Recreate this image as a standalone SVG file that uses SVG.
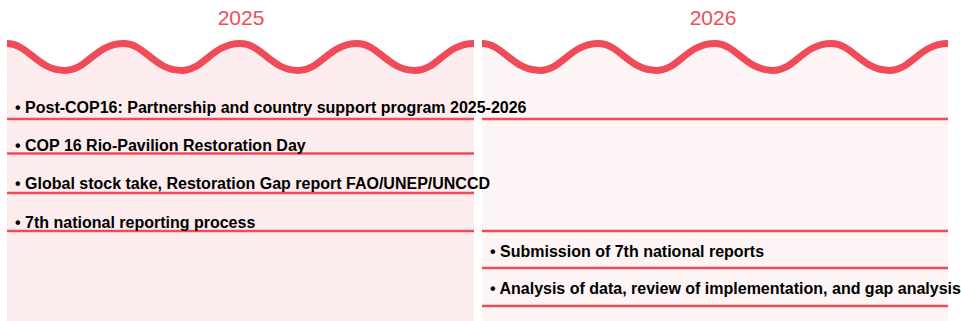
<svg xmlns="http://www.w3.org/2000/svg" width="961" height="321" viewBox="0 0 961 321">
<defs>
<style>
.year{font-family:"Liberation Sans",Arial,sans-serif;font-size:21px;fill:#f04b59;text-anchor:middle}
.wave{fill:none;stroke:#f04b59;stroke-width:7}
.line{stroke:#f04b59;stroke-width:2.5}
.item{font-family:"Liberation Sans",Arial,sans-serif;font-size:16px;font-weight:bold;fill:#000}
</style>
</defs>
<rect width="961" height="321" fill="#ffffff"/>
<g id="panel-2025">
<path d="M7,43.5 C28.3,43.5 37.1,70.5 65.4,70.5 C86.6,70.5 95.5,43.5 123.8,43.5 C145,43.5 153.9,70.5 182.1,70.5 C203.4,70.5 212.2,43.5 240.5,43.5 C261.8,43.5 270.6,70.5 298.9,70.5 C320.1,70.5 329,43.5 357.3,43.5 C378.5,43.5 387.4,70.5 415.6,70.5 C436.9,70.5 445.7,43.5 474,43.5 L474,321 L7,321 Z" fill="#fcecee"/>
<path class="wave" d="M7,43.5 C28.3,43.5 37.1,70.5 65.4,70.5 C86.6,70.5 95.5,43.5 123.8,43.5 C145,43.5 153.9,70.5 182.1,70.5 C203.4,70.5 212.2,43.5 240.5,43.5 C261.8,43.5 270.6,70.5 298.9,70.5 C320.1,70.5 329,43.5 357.3,43.5 C378.5,43.5 387.4,70.5 415.6,70.5 C436.9,70.5 445.7,43.5 474,43.5"/>
<text class="year" x="241" y="25">2025</text>
</g>
<g id="panel-2026">
<path d="M482,43.5 C503.2,43.5 512,70.5 540.3,70.5 C561.5,70.5 570.3,43.5 598.5,43.5 C619.7,43.5 628.5,70.5 656.8,70.5 C678,70.5 686.8,43.5 715,43.5 C736.2,43.5 745,70.5 773.3,70.5 C794.5,70.5 803.3,43.5 831.5,43.5 C852.7,43.5 861.5,70.5 889.8,70.5 C911,70.5 919.8,43.5 948,43.5 L948,321 L482,321 Z" fill="#fdf5f5"/>
<path class="wave" d="M482,43.5 C503.2,43.5 512,70.5 540.3,70.5 C561.5,70.5 570.3,43.5 598.5,43.5 C619.7,43.5 628.5,70.5 656.8,70.5 C678,70.5 686.8,43.5 715,43.5 C736.2,43.5 745,70.5 773.3,70.5 C794.5,70.5 803.3,43.5 831.5,43.5 C852.7,43.5 861.5,70.5 889.8,70.5 C911,70.5 919.8,43.5 948,43.5"/>
<text class="year" x="713" y="25">2026</text>
</g>
<g id="connectors">
<line class="line" x1="7" y1="119" x2="474" y2="119"/>
<line class="line" x1="7" y1="153.5" x2="474" y2="153.5"/>
<line class="line" x1="7" y1="193" x2="474" y2="193"/>
<line class="line" x1="7" y1="231" x2="474" y2="231"/>
<line class="line" x1="482" y1="119" x2="948" y2="119"/>
<line class="line" x1="482" y1="231" x2="948" y2="231"/>
<line class="line" x1="482" y1="268" x2="948" y2="268"/>
<line class="line" x1="482" y1="306" x2="948" y2="306"/>
</g>
<g id="item-post-cop16"><text class="item" x="15" y="113">• Post-COP16: Partnership and country support program 2025-2026</text></g>
<g id="item-cop16-day"><text class="item" x="15" y="151">• COP 16 Rio-Pavilion Restoration Day</text></g>
<g id="item-global-stock"><text class="item" x="15" y="189">• Global stock take, Restoration Gap report FAO/UNEP/UNCCD</text></g>
<g id="item-7th-process"><text class="item" x="15" y="227.5">• 7th national reporting process</text></g>
<g id="item-submission"><text class="item" x="490" y="256.5">• Submission of 7th national reports</text></g>
<g id="item-analysis"><text class="item" x="490" y="294">• Analysis of data, review of implementation, and gap analysis</text></g>
</svg>
